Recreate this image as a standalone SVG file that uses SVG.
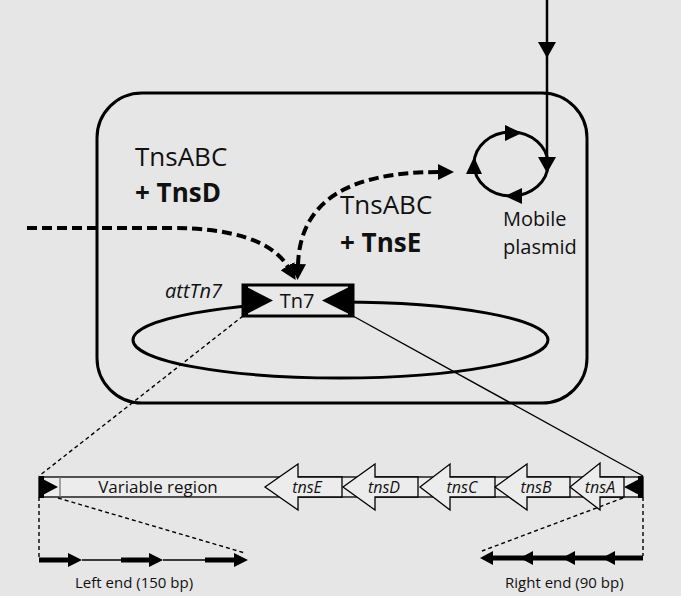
<svg xmlns="http://www.w3.org/2000/svg" width="681" height="596" viewBox="0 0 681 596">
<style>
text{font-family:"Open Sans","Liberation Sans",sans-serif;fill:#111}
.big{font-size:26px}
.b{font-weight:bold}
.it{font-style:italic}
.gene{font-size:16px;font-style:italic;text-anchor:middle}
.ol{fill:none;stroke:#000;stroke-width:3}
.dash{fill:none;stroke:#000;stroke-width:4;stroke-dasharray:10 5}
.thin{fill:none;stroke:#000;stroke-width:1.4}
.tdash{fill:none;stroke:#000;stroke-width:1.4;stroke-dasharray:4 3}
.gbox{fill:#ececec;stroke:#000;stroke-width:1.3}
.blk{fill:#000}
</style>
<defs>
<marker id="ah" markerUnits="userSpaceOnUse" viewBox="0 0 16 16" markerWidth="16" markerHeight="16" refX="1" refY="8" orient="auto-start-reverse">
<path d="M0,0 L16,8 L0,16 z" fill="#000"/>
</marker>
</defs>
<rect width="681" height="596" fill="#e6e6e6"/>

<g id="cell">
<rect x="97" y="93" width="490" height="310" rx="45" ry="45" class="ol"/>
</g>

<g id="chromosome">
<ellipse cx="340.5" cy="340" rx="207.5" ry="38" class="ol"/>
</g>

<g id="plasmid">
<ellipse cx="511" cy="164" rx="37" ry="32" class="ol"/>
<polygon points="505,125 505,141 522,133" class="blk"/>
<polygon points="466,174 482,174 474,157" class="blk"/>
<polygon points="522,188 522,204 505,196" class="blk"/>
<text x="503" y="226" font-size="20">Mobile</text>
<text x="503" y="254" font-size="20">plasmid</text>
</g>

<g id="label-tnsd">
<text x="135" y="166" class="big">TnsABC</text>
<text x="135" y="202" class="big b">+ TnsD</text>
</g>
<g id="label-tnse">
<text x="340" y="214" class="big">TnsABC</text>
<text x="340" y="252" class="big b">+ TnsE</text>
</g>

<g id="connectors">
<line x1="547" y1="0" x2="547" y2="163" stroke="#000" stroke-width="2.5"/>
<polygon points="538,42 556,42 547,58" class="blk"/>
<polygon points="538,157 556,157 547,173" class="blk"/>
<path d="M27,228 L170,228 C230,228 272,240 288,267" class="dash" marker-end="url(#ah)"/>
<path d="M298,265 C300,200 350,172 439,172" class="dash" marker-start="url(#ah)" marker-end="url(#ah)"/>
<line x1="243" y1="316" x2="39" y2="476" class="tdash"/>
<line x1="353" y1="316" x2="643" y2="476" class="thin"/>
<line x1="39" y1="497" x2="39" y2="558" class="tdash"/>
<line x1="643" y1="497" x2="643" y2="556" class="tdash"/>
<line x1="58" y1="498" x2="245" y2="553" class="tdash"/>
<line x1="623" y1="498" x2="482" y2="551" class="tdash"/>
</g>

<g id="tn7">
<rect x="243" y="285" width="110" height="31" fill="#e8e8e8" stroke="#000" stroke-width="3"/>
<rect x="243" y="285" width="5" height="31" class="blk"/>
<polygon points="243,285 273,300.5 243,316" class="blk"/>
<rect x="348" y="285" width="5" height="31" class="blk"/>
<polygon points="353,285 322,300.5 353,316" class="blk"/>
<text x="297" y="308" font-size="20" text-anchor="middle">Tn7</text>
<text x="165" y="298" font-size="20" class="it">attTn7</text>
</g>

<g id="tn7-map">
<rect x="39" y="477" width="604" height="20" class="gbox"/>
<line x1="60" y1="477" x2="60" y2="497" stroke="#777" stroke-width="1.3"/>
<rect x="39" y="476" width="5" height="22" class="blk"/>
<polygon points="39,477 58,487 39,497" class="blk"/>
<text x="158" y="493" font-size="17" text-anchor="middle">Variable region</text>
</g>

<g id="tnsE">
<polygon points="265,487 298,464 298,477 342,477 342,497 298,497 298,510" class="gbox"/>
<text x="307" y="493" class="gene">tnsE</text>
</g>
<g id="tnsD">
<polygon points="343,487 375,464 375,477 418,477 418,497 375,497 375,510" class="gbox"/>
<text x="384" y="493" class="gene">tnsD</text>
</g>
<g id="tnsC">
<polygon points="420,487 450,464 450,477 495,477 495,497 450,497 450,510" class="gbox"/>
<text x="462" y="493" class="gene">tnsC</text>
</g>
<g id="tnsB">
<polygon points="495,487 527,464 527,477 570,477 570,497 527,497 527,510" class="gbox"/>
<text x="536" y="493" class="gene">tnsB</text>
</g>
<g id="tnsA">
<polygon points="570,487 600,463 600,477 624,477 624,497 600,497 600,510" class="gbox"/>
<text x="600" y="493" class="gene">tnsA</text>
</g>
<g id="right-end-mark">
<rect x="638" y="476" width="5" height="22" class="blk"/>
<polygon points="643,477 624,487 643,497" class="blk"/>
</g>

<g id="left-end">
<line x1="39" y1="560" x2="70" y2="560" stroke="#000" stroke-width="5"/>
<polygon points="68,553 82,560 68,567" class="blk"/>
<line x1="82" y1="560" x2="121" y2="560" stroke="#000" stroke-width="1.4"/>
<line x1="121" y1="560" x2="151" y2="560" stroke="#000" stroke-width="5"/>
<polygon points="149,553 163,560 149,567" class="blk"/>
<line x1="163" y1="560" x2="205" y2="560" stroke="#000" stroke-width="1.4"/>
<line x1="205" y1="560" x2="236" y2="560" stroke="#000" stroke-width="5"/>
<polygon points="234,553 248,560 234,567" class="blk"/>
<text x="75" y="588" font-size="15">Left end (150 bp)</text>
</g>

<g id="right-end">
<line x1="490" y1="558" x2="643" y2="558" stroke="#000" stroke-width="5"/>
<polygon points="480,558 493,551 493,565" class="blk"/>
<polygon points="520,558 533,551 533,565" class="blk"/>
<polygon points="562,558 575,551 575,565" class="blk"/>
<polygon points="602,558 615,551 615,565" class="blk"/>
<text x="505" y="588" font-size="15">Right end (90 bp)</text>
</g>
</svg>
